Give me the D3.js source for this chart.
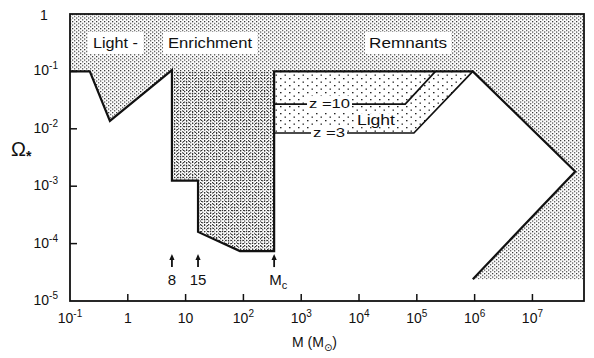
<!DOCTYPE html>
<html><head><meta charset="utf-8">
<script src="https://cdn.jsdelivr.net/npm/d3@7"></script>
<style>
html,body{margin:0;padding:0;background:#fff;}
svg{display:block;}
text{font-family:"Liberation Sans","DejaVu Sans",sans-serif;fill:#111;}
</style></head>
<body>
<script>
// ---- data ----
const boundaryM     = [0.1, 0.22, 0.49, 5.8, 5.8, 16.4, 16.4, 87, 340, 340, 9.3e5, 5.5e7, 9.3e5];
const boundaryOmega = [0.1, 0.1, 0.0137, 0.105, 1.25e-3, 1.25e-3, 1.6e-4, 7.4e-5, 7.4e-5, 0.1, 0.1, 1.8e-3, 2.4e-5];
const enrichM       = [5.8, 340, 340, 87, 16.4, 16.4, 5.8];
const enrichOmega   = [0.1, 0.1, 7.4e-5, 7.4e-5, 1.6e-4, 1.25e-3, 1.25e-3];
const lightBoxM     = [340, 9.3e5, 8.9e4, 340];
const lightBoxOmega = [0.1, 0.1, 8.45e-3, 8.45e-3];
const z10M          = [340, 6.3e4, 2.1e5];
const z10Omega      = [0.027, 0.027, 0.1];
const z3M           = [340, 8.9e4, 9.3e5];
const z3Omega       = [8.45e-3, 8.45e-3, 0.1];
const arrowM        = [5.8, 16.4, 340];
const arrowLabels   = ["8", "15", "M"];
const arrowSubs     = ["", "", "c"];
const xTicks        = [0.1, 1, 10, 1e2, 1e3, 1e4, 1e5, 1e6, 1e7];
const xTickBase     = ["10", "1", "10", "10", "10", "10", "10", "10", "10"];
const xTickSup      = ["-1", "", "", "2", "3", "4", "5", "6", "7"];
const yTicks        = [1, 0.1, 0.01, 1e-3, 1e-4, 1e-5];
const yTickBase     = ["1", "10", "10", "10", "10", "10"];
const yTickSup      = ["", "-1", "-2", "-3", "-4", "-5"];
const regionLabels  = ["Light -", "Enrichment", "Remnants", "z =10", "Light", "z =3"];
const labelM        = [0.25, 4.97, 1.49e4, 1365, 9.2e3, 1600];
const labelOmega    = [0.256, 0.256, 0.256, 0.023, 0.0116, 0.0072];

const W = 594, H = 358;
const xMin = 0.1, xMax = 7.8e7, yMin = 1e-5, yMax = 1;
const x = d3.scaleLog().domain([xMin, xMax]).range([70, 584]);
const y = d3.scaleLog().domain([yMin, yMax]).range([301, 14]);

const svg = d3.select("body").append("svg").attr("width", W).attr("height", H);
const defs = svg.append("defs");
const p1 = defs.append("pattern").attr("id","upper").attr("width",4).attr("height",3.5).attr("patternUnits","userSpaceOnUse");
p1.append("rect").attr("x",0).attr("y",0).attr("width",1.3).attr("height",1.2).attr("fill","#333");
p1.append("rect").attr("x",2).attr("y",1.75).attr("width",1.3).attr("height",1.2).attr("fill","#444");
const p2 = defs.append("pattern").attr("id","dense").attr("width",3).attr("height",3).attr("patternUnits","userSpaceOnUse");
p2.append("rect").attr("x",0).attr("y",0).attr("width",1.2).attr("height",1).attr("fill","#333");
const p3 = defs.append("pattern").attr("id","coarse").attr("width",9).attr("height",7).attr("patternUnits","userSpaceOnUse");
p3.append("rect").attr("x",1).attr("y",1).attr("width",1.5).attr("height",1.3).attr("fill","#222");
p3.append("rect").attr("x",5.5).attr("y",4.5).attr("width",1.5).attr("height",1.3).attr("fill","#333");

const line = d3.line().x(d => x(d[0])).y(d => y(d[1]));
const zip = (a, b) => a.map((v, i) => [v, b[i]]);
const boundary = zip(boundaryM, boundaryOmega);

// big stippled region
const region = [[xMin, yMax], [xMax, yMax], [xMax, boundaryOmega[boundaryOmega.length-1]]]
  .concat(boundary.slice().reverse());
svg.append("path").attr("d", line(region) + "Z").attr("fill", "url(#upper)");
svg.append("path").attr("d", line(zip(enrichM, enrichOmega)) + "Z").attr("fill", "url(#dense)");
svg.append("path").attr("d", line(zip(lightBoxM, lightBoxOmega)) + "Z").attr("fill", "url(#coarse)");

// outlines
svg.append("path").attr("d", line(boundary)).attr("fill","none").attr("stroke","#111")
  .attr("stroke-width",2.2).attr("stroke-linejoin","miter");
svg.append("path").attr("d", line(zip(z10M, z10Omega))).attr("fill","none").attr("stroke","#111").attr("stroke-width",1.7);
svg.append("path").attr("d", line(zip(z3M, z3Omega))).attr("fill","none").attr("stroke","#111").attr("stroke-width",1.7);

// frame
svg.append("rect").attr("x", x(xMin)).attr("y", y(yMax)).attr("width", x(xMax)-x(xMin)).attr("height", y(yMin)-y(yMax))
  .attr("fill","none").attr("stroke","#111").attr("stroke-width",1.8);

// ticks (inward)
svg.append("g").selectAll("line").data(xTicks.slice(1)).join("line")
  .attr("x1", d => x(d)).attr("x2", d => x(d)).attr("y1", y(yMin)).attr("y2", y(yMin)-7)
  .attr("stroke","#111").attr("stroke-width",1.5);
svg.append("g").selectAll("line").data(yTicks.slice(1, -1)).join("line")
  .attr("x1", x(xMin)).attr("x2", x(xMin)+7).attr("y1", d => y(d)).attr("y2", d => y(d))
  .attr("stroke","#111").attr("stroke-width",1.5);

// x tick labels
xTicks.forEach((v, i) => {
  const t = svg.append("text").attr("x", x(v)).attr("y", y(yMin) + 22).attr("text-anchor","middle").attr("font-size",14);
  t.append("tspan").text(xTickBase[i]);
  if (xTickSup[i]) t.append("tspan").attr("dy",-6).attr("font-size",10).text(xTickSup[i]);
});
// y tick labels
yTicks.forEach((v, i) => {
  const t = svg.append("text").attr("y", y(v) + (i === 0 ? 6 : 4)).attr("font-size",14);
  if (i === 0) { t.attr("x", 44).attr("text-anchor","middle"); }
  else { t.attr("x", 58).attr("text-anchor","end"); }
  t.append("tspan").text(yTickBase[i]);
  if (yTickSup[i]) t.append("tspan").attr("dy",-6).attr("font-size",10).text(yTickSup[i]);
});

// arrows
const aTop = 6.3e-5, aBot = 3.9e-5;
arrowM.forEach((m, i) => {
  const cx = x(m), yt = y(aTop), yb = y(aBot);
  svg.append("line").attr("x1",cx).attr("x2",cx).attr("y1",yt+3).attr("y2",yb).attr("stroke","#111").attr("stroke-width",1.8);
  svg.append("path").attr("d", `M${cx},${yt-1} L${cx-2.6},${yt+5} L${cx+2.6},${yt+5}Z`).attr("fill","#111");
  const t = svg.append("text").attr("x", cx + (arrowSubs[i] ? 4 : 0)).attr("y", yb + 18).attr("text-anchor","middle").attr("font-size",15);
  t.append("tspan").text(arrowLabels[i]);
  if (arrowSubs[i]) t.append("tspan").attr("dy",4).attr("font-size",11).text(arrowSubs[i]);
});

// region labels with white clearing
const sizes = [14, 14, 14, 13, 14, 13];
const pads = [[5, 3], [5, 3], [4, 3], [2, 0], [1, -1], [2, 0]];
const lengths = [45, 84, 78, 41, 38, 32];
regionLabels.forEach((s, i) => {
  const g = svg.append("g");
  const t = g.append("text").attr("x", x(labelM[i])).attr("y", y(labelOmega[i]))
    .attr("font-family","DejaVu Sans, sans-serif")
    .attr("font-size", sizes[i]).attr("textLength", lengths[i]).attr("lengthAdjust","spacingAndGlyphs")
    .text(s);
  const b = t.node().getBBox();
  g.insert("rect", "text").attr("x", b.x - pads[i][0]).attr("y", b.y - pads[i][1])
    .attr("width", b.width + 2*pads[i][0]).attr("height", b.height + 2*pads[i][1]).attr("fill", "#fff");
});

// axis titles
const yt = svg.append("text").attr("x", 11).attr("y", 156).attr("font-family","DejaVu Serif, serif").attr("font-size",20);
yt.append("tspan").text("Ω");
yt.append("tspan").attr("dy",5).attr("font-size",14).attr("font-weight","bold").text("*");
const xt = svg.append("text").attr("x", 292).attr("y", 347).attr("font-size",14);
xt.append("tspan").text("M (M");
xt.append("tspan").attr("dy",4).attr("font-size",10).attr("font-family","DejaVu Sans, sans-serif").text("⊙");
xt.append("tspan").attr("dy",-4).text(")");
</script>
</body></html>
